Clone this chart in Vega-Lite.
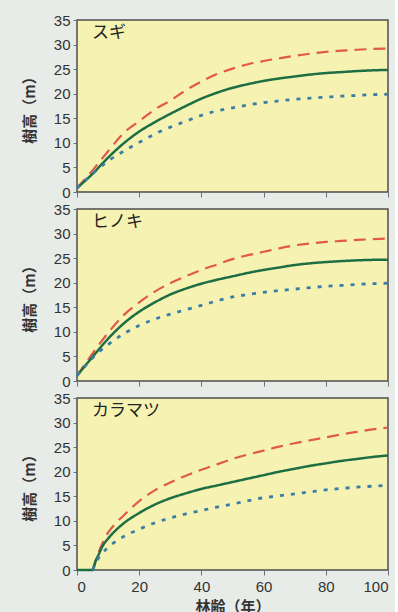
{
  "$schema": "https://vega.github.io/schema/vega-lite/v6.json",
  "padding": {"left": 21, "top": 12, "right": 0, "bottom": 0},
  "background": "#e8ece8",
  "data": {"values": [
    {"sp":"スギ","s":"上","age":0,"h":0.8},{"sp":"スギ","s":"上","age":5,"h":4.4},{"sp":"スギ","s":"上","age":10,"h":8.3},{"sp":"スギ","s":"上","age":15,"h":12.0},{"sp":"スギ","s":"上","age":20,"h":14.4},{"sp":"スギ","s":"上","age":25,"h":16.8},{"sp":"スギ","s":"上","age":30,"h":18.6},{"sp":"スギ","s":"上","age":35,"h":20.7},{"sp":"スギ","s":"上","age":40,"h":22.5},{"sp":"スギ","s":"上","age":45,"h":24.0},{"sp":"スギ","s":"上","age":50,"h":25.1},{"sp":"スギ","s":"上","age":55,"h":26.0},{"sp":"スギ","s":"上","age":60,"h":26.65},{"sp":"スギ","s":"上","age":65,"h":27.2},{"sp":"スギ","s":"上","age":70,"h":27.7},{"sp":"スギ","s":"上","age":75,"h":28.15},{"sp":"スギ","s":"上","age":80,"h":28.5},{"sp":"スギ","s":"上","age":85,"h":28.75},{"sp":"スギ","s":"上","age":90,"h":28.95},{"sp":"スギ","s":"上","age":95,"h":29.1},{"sp":"スギ","s":"上","age":100,"h":29.2},
    {"sp":"スギ","s":"中","age":0,"h":0.8},{"sp":"スギ","s":"中","age":5,"h":3.7},{"sp":"スギ","s":"中","age":10,"h":7.0},{"sp":"スギ","s":"中","age":15,"h":9.9},{"sp":"スギ","s":"中","age":20,"h":12.3},{"sp":"スギ","s":"中","age":25,"h":14.2},{"sp":"スギ","s":"中","age":30,"h":15.9},{"sp":"スギ","s":"中","age":35,"h":17.5},{"sp":"スギ","s":"中","age":40,"h":19.0},{"sp":"スギ","s":"中","age":45,"h":20.2},{"sp":"スギ","s":"中","age":50,"h":21.2},{"sp":"スギ","s":"中","age":55,"h":21.95},{"sp":"スギ","s":"中","age":60,"h":22.6},{"sp":"スギ","s":"中","age":65,"h":23.1},{"sp":"スギ","s":"中","age":70,"h":23.5},{"sp":"スギ","s":"中","age":75,"h":23.9},{"sp":"スギ","s":"中","age":80,"h":24.2},{"sp":"スギ","s":"中","age":85,"h":24.4},{"sp":"スギ","s":"中","age":90,"h":24.6},{"sp":"スギ","s":"中","age":95,"h":24.75},{"sp":"スギ","s":"中","age":100,"h":24.85},
    {"sp":"スギ","s":"下","age":0,"h":0.8},{"sp":"スギ","s":"下","age":5,"h":3.7},{"sp":"スギ","s":"下","age":10,"h":6.3},{"sp":"スギ","s":"下","age":15,"h":8.3},{"sp":"スギ","s":"下","age":20,"h":10.1},{"sp":"スギ","s":"下","age":25,"h":11.8},{"sp":"スギ","s":"下","age":30,"h":13.2},{"sp":"スギ","s":"下","age":35,"h":14.4},{"sp":"スギ","s":"下","age":40,"h":15.6},{"sp":"スギ","s":"下","age":45,"h":16.5},{"sp":"スギ","s":"下","age":50,"h":17.1},{"sp":"スギ","s":"下","age":55,"h":17.7},{"sp":"スギ","s":"下","age":60,"h":18.2},{"sp":"スギ","s":"下","age":65,"h":18.55},{"sp":"スギ","s":"下","age":70,"h":18.85},{"sp":"スギ","s":"下","age":75,"h":19.1},{"sp":"スギ","s":"下","age":80,"h":19.3},{"sp":"スギ","s":"下","age":85,"h":19.5},{"sp":"スギ","s":"下","age":90,"h":19.65},{"sp":"スギ","s":"下","age":95,"h":19.8},{"sp":"スギ","s":"下","age":100,"h":19.9},
    {"sp":"ヒノキ","s":"上","age":0,"h":1.1},{"sp":"ヒノキ","s":"上","age":5,"h":5.6},{"sp":"ヒノキ","s":"上","age":10,"h":9.8},{"sp":"ヒノキ","s":"上","age":15,"h":13.4},{"sp":"ヒノキ","s":"上","age":20,"h":16.0},{"sp":"ヒノキ","s":"上","age":25,"h":18.2},{"sp":"ヒノキ","s":"上","age":30,"h":19.9},{"sp":"ヒノキ","s":"上","age":35,"h":21.3},{"sp":"ヒノキ","s":"上","age":40,"h":22.6},{"sp":"ヒノキ","s":"上","age":45,"h":23.7},{"sp":"ヒノキ","s":"上","age":50,"h":24.8},{"sp":"ヒノキ","s":"上","age":55,"h":25.6},{"sp":"ヒノキ","s":"上","age":60,"h":26.3},{"sp":"ヒノキ","s":"上","age":65,"h":27.0},{"sp":"ヒノキ","s":"上","age":70,"h":27.6},{"sp":"ヒノキ","s":"上","age":75,"h":28.0},{"sp":"ヒノキ","s":"上","age":80,"h":28.3},{"sp":"ヒノキ","s":"上","age":85,"h":28.5},{"sp":"ヒノキ","s":"上","age":90,"h":28.7},{"sp":"ヒノキ","s":"上","age":95,"h":28.85},{"sp":"ヒノキ","s":"上","age":100,"h":29.0},
    {"sp":"ヒノキ","s":"中","age":0,"h":1.1},{"sp":"ヒノキ","s":"中","age":5,"h":4.9},{"sp":"ヒノキ","s":"中","age":10,"h":8.6},{"sp":"ヒノキ","s":"中","age":15,"h":11.7},{"sp":"ヒノキ","s":"中","age":20,"h":14.1},{"sp":"ヒノキ","s":"中","age":25,"h":16.0},{"sp":"ヒノキ","s":"中","age":30,"h":17.6},{"sp":"ヒノキ","s":"中","age":35,"h":18.8},{"sp":"ヒノキ","s":"中","age":40,"h":19.8},{"sp":"ヒノキ","s":"中","age":45,"h":20.6},{"sp":"ヒノキ","s":"中","age":50,"h":21.3},{"sp":"ヒノキ","s":"中","age":55,"h":22.0},{"sp":"ヒノキ","s":"中","age":60,"h":22.6},{"sp":"ヒノキ","s":"中","age":65,"h":23.1},{"sp":"ヒノキ","s":"中","age":70,"h":23.6},{"sp":"ヒノキ","s":"中","age":75,"h":23.95},{"sp":"ヒノキ","s":"中","age":80,"h":24.2},{"sp":"ヒノキ","s":"中","age":85,"h":24.4},{"sp":"ヒノキ","s":"中","age":90,"h":24.55},{"sp":"ヒノキ","s":"中","age":95,"h":24.65},{"sp":"ヒノキ","s":"中","age":100,"h":24.7},
    {"sp":"ヒノキ","s":"下","age":0,"h":1.1},{"sp":"ヒノキ","s":"下","age":5,"h":4.7},{"sp":"ヒノキ","s":"下","age":10,"h":7.4},{"sp":"ヒノキ","s":"下","age":15,"h":9.6},{"sp":"ヒノキ","s":"下","age":20,"h":11.3},{"sp":"ヒノキ","s":"下","age":25,"h":12.6},{"sp":"ヒノキ","s":"下","age":30,"h":13.6},{"sp":"ヒノキ","s":"下","age":35,"h":14.5},{"sp":"ヒノキ","s":"下","age":40,"h":15.4},{"sp":"ヒノキ","s":"下","age":45,"h":16.3},{"sp":"ヒノキ","s":"下","age":50,"h":17.1},{"sp":"ヒノキ","s":"下","age":55,"h":17.6},{"sp":"ヒノキ","s":"下","age":60,"h":18.05},{"sp":"ヒノキ","s":"下","age":65,"h":18.4},{"sp":"ヒノキ","s":"下","age":70,"h":18.7},{"sp":"ヒノキ","s":"下","age":75,"h":19.0},{"sp":"ヒノキ","s":"下","age":80,"h":19.25},{"sp":"ヒノキ","s":"下","age":85,"h":19.45},{"sp":"ヒノキ","s":"下","age":90,"h":19.65},{"sp":"ヒノキ","s":"下","age":95,"h":19.8},{"sp":"ヒノキ","s":"下","age":100,"h":19.9},
    {"sp":"カラマツ","s":"上","age":5,"h":0},{"sp":"カラマツ","s":"上","age":6,"h":2.0},{"sp":"カラマツ","s":"上","age":7,"h":3.7},{"sp":"カラマツ","s":"上","age":8,"h":5.2},{"sp":"カラマツ","s":"上","age":10,"h":7.6},{"sp":"カラマツ","s":"上","age":12,"h":9.2},{"sp":"カラマツ","s":"上","age":15,"h":11.1},{"sp":"カラマツ","s":"上","age":20,"h":14.0},{"sp":"カラマツ","s":"上","age":25,"h":16.2},{"sp":"カラマツ","s":"上","age":30,"h":17.8},{"sp":"カラマツ","s":"上","age":35,"h":19.2},{"sp":"カラマツ","s":"上","age":40,"h":20.4},{"sp":"カラマツ","s":"上","age":45,"h":21.5},{"sp":"カラマツ","s":"上","age":50,"h":22.6},{"sp":"カラマツ","s":"上","age":55,"h":23.5},{"sp":"カラマツ","s":"上","age":60,"h":24.3},{"sp":"カラマツ","s":"上","age":65,"h":25.1},{"sp":"カラマツ","s":"上","age":70,"h":25.8},{"sp":"カラマツ","s":"上","age":75,"h":26.4},{"sp":"カラマツ","s":"上","age":80,"h":27.0},{"sp":"カラマツ","s":"上","age":85,"h":27.6},{"sp":"カラマツ","s":"上","age":90,"h":28.1},{"sp":"カラマツ","s":"上","age":95,"h":28.6},{"sp":"カラマツ","s":"上","age":100,"h":29.0},
    {"sp":"カラマツ","s":"中","age":0,"h":0},{"sp":"カラマツ","s":"中","age":5,"h":0},{"sp":"カラマツ","s":"中","age":6,"h":1.8},{"sp":"カラマツ","s":"中","age":7,"h":3.2},{"sp":"カラマツ","s":"中","age":8,"h":4.6},{"sp":"カラマツ","s":"中","age":10,"h":6.4},{"sp":"カラマツ","s":"中","age":12,"h":7.8},{"sp":"カラマツ","s":"中","age":15,"h":9.5},{"sp":"カラマツ","s":"中","age":20,"h":11.6},{"sp":"カラマツ","s":"中","age":25,"h":13.3},{"sp":"カラマツ","s":"中","age":30,"h":14.6},{"sp":"カラマツ","s":"中","age":35,"h":15.6},{"sp":"カラマツ","s":"中","age":40,"h":16.5},{"sp":"カラマツ","s":"中","age":45,"h":17.2},{"sp":"カラマツ","s":"中","age":50,"h":17.9},{"sp":"カラマツ","s":"中","age":55,"h":18.6},{"sp":"カラマツ","s":"中","age":60,"h":19.3},{"sp":"カラマツ","s":"中","age":65,"h":20.0},{"sp":"カラマツ","s":"中","age":70,"h":20.6},{"sp":"カラマツ","s":"中","age":75,"h":21.2},{"sp":"カラマツ","s":"中","age":80,"h":21.7},{"sp":"カラマツ","s":"中","age":85,"h":22.2},{"sp":"カラマツ","s":"中","age":90,"h":22.6},{"sp":"カラマツ","s":"中","age":95,"h":23.0},{"sp":"カラマツ","s":"中","age":100,"h":23.3},
    {"sp":"カラマツ","s":"下","age":5,"h":0},{"sp":"カラマツ","s":"下","age":6,"h":1.4},{"sp":"カラマツ","s":"下","age":7,"h":2.5},{"sp":"カラマツ","s":"下","age":8,"h":3.3},{"sp":"カラマツ","s":"下","age":10,"h":4.6},{"sp":"カラマツ","s":"下","age":12,"h":5.6},{"sp":"カラマツ","s":"下","age":15,"h":6.8},{"sp":"カラマツ","s":"下","age":20,"h":8.3},{"sp":"カラマツ","s":"下","age":25,"h":9.6},{"sp":"カラマツ","s":"下","age":30,"h":10.6},{"sp":"カラマツ","s":"下","age":35,"h":11.4},{"sp":"カラマツ","s":"下","age":40,"h":12.1},{"sp":"カラマツ","s":"下","age":45,"h":12.8},{"sp":"カラマツ","s":"下","age":50,"h":13.4},{"sp":"カラマツ","s":"下","age":55,"h":14.1},{"sp":"カラマツ","s":"下","age":60,"h":14.7},{"sp":"カラマツ","s":"下","age":65,"h":15.1},{"sp":"カラマツ","s":"下","age":70,"h":15.5},{"sp":"カラマツ","s":"下","age":75,"h":15.9},{"sp":"カラマツ","s":"下","age":80,"h":16.3},{"sp":"カラマツ","s":"下","age":85,"h":16.6},{"sp":"カラマツ","s":"下","age":90,"h":16.85},{"sp":"カラマツ","s":"下","age":95,"h":17.05},{"sp":"カラマツ","s":"下","age":100,"h":17.2}
  ]},
  "spacing": 0,
  "vconcat": [
    {
      "width": 311, "height": 172,
      "layer": [
        {
          "transform": [{"filter": "datum.sp === 'スギ'"}],
          "mark": {"type": "line", "interpolate": "monotone"},
          "encoding": {
            "x": {"field": "age", "type": "quantitative", "scale": {"domain": [0, 100], "nice": false}, "axis": {"values": [0, 20, 40, 60, 80, 100], "labels": false, "title": null}},
            "y": {"field": "h", "type": "quantitative", "scale": {"domain": [0, 35], "nice": false}, "axis": {"values": [0, 5, 10, 15, 20, 25, 30, 35], "title": "樹高（m）"}},
            "color": {"field": "s", "type": "nominal", "scale": {"domain": ["上", "中", "下"], "range": ["#e0594b", "#1e6e44", "#3a7ea6"]}, "legend": null},
            "strokeDash": {"field": "s", "type": "nominal", "scale": {"domain": ["上", "中", "下"], "range": [[12, 7], [1, 0], [4, 7]]}, "legend": null},
            "strokeWidth": {"field": "s", "type": "nominal", "scale": {"domain": ["上", "中", "下"], "range": [2.2, 2.8, 2.6]}, "legend": null}
          }
        },
        {
          "data": {"values": [{"name": "スギ"}]},
          "mark": {"type": "text", "align": "left", "baseline": "middle", "dx": 15, "dy": 13, "font": "Noto Sans CJK JP", "fontSize": 17, "color": "#222222"},
          "encoding": {
            "x": {"datum": 0, "type": "quantitative", "axis": {"values": [0, 20, 40, 60, 80, 100], "labels": false, "title": null}},
            "y": {"datum": 35, "type": "quantitative", "axis": {"values": [0, 5, 10, 15, 20, 25, 30, 35], "title": "樹高（m）"}},
            "text": {"field": "name"}
          }
        }
      ]
    },
    {
      "width": 311, "height": 172,
      "layer": [
        {
          "transform": [{"filter": "datum.sp === 'ヒノキ'"}],
          "mark": {"type": "line", "interpolate": "monotone"},
          "encoding": {
            "x": {"field": "age", "type": "quantitative", "scale": {"domain": [0, 100], "nice": false}, "axis": {"values": [0, 20, 40, 60, 80, 100], "labels": false, "title": null}},
            "y": {"field": "h", "type": "quantitative", "scale": {"domain": [0, 35], "nice": false}, "axis": {"values": [0, 5, 10, 15, 20, 25, 30, 35], "title": "樹高（m）"}},
            "color": {"field": "s", "type": "nominal", "scale": {"domain": ["上", "中", "下"], "range": ["#e0594b", "#1e6e44", "#3a7ea6"]}, "legend": null},
            "strokeDash": {"field": "s", "type": "nominal", "scale": {"domain": ["上", "中", "下"], "range": [[12, 7], [1, 0], [4, 7]]}, "legend": null},
            "strokeWidth": {"field": "s", "type": "nominal", "scale": {"domain": ["上", "中", "下"], "range": [2.2, 2.8, 2.6]}, "legend": null}
          }
        },
        {
          "data": {"values": [{"name": "ヒノキ"}]},
          "mark": {"type": "text", "align": "left", "baseline": "middle", "dx": 15, "dy": 13, "font": "Noto Sans CJK JP", "fontSize": 17, "color": "#222222"},
          "encoding": {
            "x": {"datum": 0, "type": "quantitative", "axis": {"values": [0, 20, 40, 60, 80, 100], "labels": false, "title": null}},
            "y": {"datum": 35, "type": "quantitative", "axis": {"values": [0, 5, 10, 15, 20, 25, 30, 35], "title": "樹高（m）"}},
            "text": {"field": "name"}
          }
        }
      ]
    },
    {
      "width": 311, "height": 172,
      "layer": [
        {
          "transform": [{"filter": "datum.sp === 'カラマツ'"}],
          "mark": {"type": "line", "interpolate": "monotone"},
          "encoding": {
            "x": {"field": "age", "type": "quantitative", "scale": {"domain": [0, 100], "nice": false}, "axis": {"values": [0, 20, 40, 60, 80, 100], "title": "林齢（年）"}},
            "y": {"field": "h", "type": "quantitative", "scale": {"domain": [0, 35], "nice": false}, "axis": {"values": [0, 5, 10, 15, 20, 25, 30, 35], "title": "樹高（m）"}},
            "color": {"field": "s", "type": "nominal", "scale": {"domain": ["上", "中", "下"], "range": ["#e0594b", "#1e6e44", "#3a7ea6"]}, "legend": null},
            "strokeDash": {"field": "s", "type": "nominal", "scale": {"domain": ["上", "中", "下"], "range": [[12, 7], [1, 0], [4, 7]]}, "legend": null},
            "strokeWidth": {"field": "s", "type": "nominal", "scale": {"domain": ["上", "中", "下"], "range": [2.2, 2.8, 2.6]}, "legend": null}
          }
        },
        {
          "data": {"values": [{"name": "カラマツ"}]},
          "mark": {"type": "text", "align": "left", "baseline": "middle", "dx": 15, "dy": 13, "font": "Noto Sans CJK JP", "fontSize": 17, "color": "#222222"},
          "encoding": {
            "x": {"datum": 0, "type": "quantitative", "axis": {"values": [0, 20, 40, 60, 80, 100], "title": "林齢（年）"}},
            "y": {"datum": 35, "type": "quantitative", "axis": {"values": [0, 5, 10, 15, 20, 25, 30, 35], "title": "樹高（m）"}},
            "text": {"field": "name"}
          }
        }
      ]
    }
  ],
  "config": {
    "view": {"fill": "#f6f3b2", "stroke": "#4d4d4d", "strokeWidth": 1.5},
    "axis": {
      "grid": false, "domain": false,
      "labelFont": "Liberation Sans", "labelFontSize": 15, "labelColor": "#333333",
      "tickColor": "#6a7080", "tickSize": 4, "labelPadding": 3,
      "titleFont": "Noto Sans CJK JP", "titleFontSize": 15, "titleFontWeight": "bold", "titleColor": "#333333"
    },
    "axisY": {"titlePadding": 16},
    "axisX": {"tickSize": 5, "labelPadding": 4, "titlePadding": 5}
  }
}
